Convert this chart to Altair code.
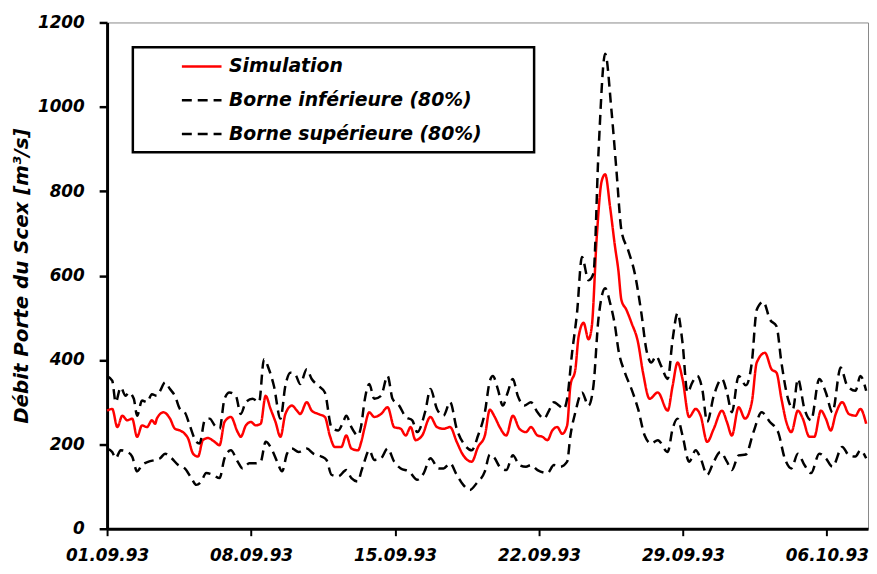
import altair as alt
import pandas as pd

# Day offsets from 01.09.93 and discharge values [m3/s]
SIM_DAYS = [0.00, 0.25, 0.50, 0.74, 0.98, 1.22, 1.46, 1.70, 1.94, 2.18, 2.34, 2.42, 2.74, 3.06, 3.30, 3.54, 3.78, 3.94, 4.18, 4.42,
            4.66, 4.90, 5.23, 5.47, 5.71, 6.02, 6.35, 6.50, 6.75, 6.99, 7.23, 7.47, 7.71, 7.95, 8.19, 8.43, 8.67, 8.99, 9.23, 9.39,
            9.71, 9.95, 10.27, 10.59, 10.83, 11.07, 11.39, 11.63, 11.88, 12.20, 12.36, 12.51, 12.75, 12.99, 13.32, 13.64, 13.96, 14.28, 14.52, 14.76,
            15.00, 15.32, 15.72, 16.04, 16.36, 16.68, 17.00, 17.32, 17.73, 18.04, 18.37, 18.61, 18.85, 19.09, 19.41, 19.73, 20.05, 20.37, 20.61, 20.93,
            21.17, 21.41, 21.65, 21.89, 22.13, 22.37, 22.53, 22.77, 22.93, 23.17, 23.41, 23.57, 23.81, 24.05, 24.22, 24.46, 24.70, 24.86, 25.01, 25.25,
            25.50, 25.82, 26.06, 26.38, 26.78, 27.26, 27.50, 27.74, 27.98, 28.30, 28.62, 28.86, 29.18, 29.50, 29.90, 30.14, 30.38, 30.71, 31.02, 31.35,
            31.59, 31.99, 32.31, 32.55, 32.79, 33.03, 33.27, 33.59, 33.83, 34.15, 34.39, 34.71, 34.95, 35.19, 35.43, 35.75, 36.07, 36.39, 36.63, 36.91]
SIM_VALUES = [280, 284, 241, 268, 257, 261, 218, 245, 241, 257, 249, 261, 276, 261, 237, 233, 225, 214, 178, 171,
              210, 215, 206, 198, 253, 265, 229, 218, 245, 253, 245, 249, 315, 284, 253, 218, 272, 292, 280, 272,
              300, 280, 272, 265, 221, 194, 194, 221, 190, 186, 206, 237, 276, 265, 272, 288, 241, 237, 221, 241,
              210, 221, 265, 241, 237, 241, 206, 174, 159, 194, 221, 282, 265, 241, 221, 268, 237, 229, 241, 221,
              218, 210, 233, 241, 225, 245, 339, 378, 456, 488, 449, 480, 691, 824, 840, 762, 668, 613, 542, 519,
              488, 441, 370, 308, 323, 280, 339, 394, 355, 265, 284, 268, 206, 237, 280, 253, 221, 288, 261, 300,
              394, 417, 378, 370, 308, 253, 229, 280, 261, 218, 218, 280, 261, 233, 272, 300, 272, 268, 284, 249]

LOW_DAYS = [0.00, 0.25, 0.42, 0.66, 0.98, 1.22, 1.46, 1.70, 2.02, 2.34, 2.58, 2.82, 3.14, 3.46, 3.78, 4.10, 4.34, 4.58, 4.82, 5.14,
            5.47, 5.71, 6.02, 6.35, 6.59, 6.91, 7.23, 7.47, 7.71, 8.03, 8.27, 8.51, 8.75, 8.99, 9.31, 9.71, 10.03, 10.43, 10.67, 10.91,
            11.24, 11.63, 11.88, 12.20, 12.36, 12.51, 12.75, 12.99, 13.32, 13.64, 13.96, 14.28, 14.68, 15.08, 15.40, 15.72, 16.12, 16.36, 16.68, 17.00,
            17.32, 17.64, 17.97, 18.37, 18.61, 18.85, 19.09, 19.41, 19.73, 20.05, 20.37, 20.61, 20.93, 21.41, 21.73, 22.04, 22.37, 22.53, 22.77, 23.09,
            23.41, 23.65, 23.89, 24.22, 24.46, 24.70, 24.86, 25.18, 25.50, 25.82, 26.14, 26.46, 26.78, 27.26, 27.50, 27.74, 27.98, 28.30, 28.62, 28.86,
            29.18, 29.50, 29.82, 30.14, 30.38, 30.71, 31.06, 31.43, 31.83, 32.23, 32.63, 32.95, 33.27, 33.59, 33.91, 34.23, 34.63, 34.95, 35.27, 35.75,
            36.07, 36.39, 36.63, 36.91]
LOW_VALUES = [190, 182, 167, 186, 182, 171, 136, 151, 159, 163, 167, 178, 167, 151, 143, 120, 104, 112, 132, 128,
              120, 167, 186, 159, 143, 155, 155, 159, 206, 186, 159, 136, 178, 190, 182, 190, 178, 171, 163, 128,
              124, 139, 120, 112, 136, 159, 186, 163, 167, 190, 159, 143, 136, 116, 132, 167, 143, 143, 155, 128,
              104, 92, 108, 136, 176, 167, 147, 139, 174, 151, 147, 151, 139, 132, 151, 147, 159, 221, 276, 323,
              292, 339, 496, 570, 535, 480, 425, 370, 331, 284, 221, 202, 210, 182, 237, 261, 221, 159, 186, 167,
              128, 159, 182, 159, 139, 174, 176, 229, 276, 253, 229, 167, 143, 178, 151, 132, 178, 167, 147, 194,
              174, 171, 186, 167]

UP_DAYS = [0.00, 0.25, 0.42, 0.66, 0.90, 1.06, 1.30, 1.46, 1.70, 1.94, 2.18, 2.42, 2.58, 2.82, 3.06, 3.30, 3.54, 3.78, 4.02, 4.34,
           4.50, 4.75, 4.99, 5.23, 5.47, 5.71, 5.95, 6.26, 6.50, 6.75, 7.07, 7.39, 7.63, 7.87, 8.11, 8.43, 8.67, 8.91, 9.15, 9.39,
           9.71, 9.95, 10.27, 10.59, 10.91, 11.24, 11.48, 11.63, 11.88, 12.20, 12.36, 12.51, 12.75, 12.99, 13.32, 13.64, 13.88, 14.20, 14.52, 14.84,
           15.08, 15.48, 15.72, 16.04, 16.36, 16.68, 17.00, 17.40, 17.73, 18.04, 18.37, 18.61, 18.76, 19.00, 19.24, 19.48, 19.73, 19.97, 20.29, 20.61,
           20.93, 21.25, 21.49, 21.73, 21.97, 22.21, 22.37, 22.61, 22.85, 23.09, 23.41, 23.65, 23.89, 24.22, 24.53, 24.77, 25.01, 25.34, 25.66, 25.98,
           26.22, 26.46, 26.70, 26.94, 27.26, 27.50, 27.74, 27.98, 28.22, 28.46, 28.70, 28.94, 29.18, 29.50, 29.90, 30.14, 30.38, 30.71, 31.06, 31.35,
           31.59, 31.91, 32.23, 32.55, 32.79, 33.11, 33.35, 33.59, 33.91, 34.23, 34.63, 34.95, 35.27, 35.67, 35.99, 36.39, 36.63, 36.91]
UP_VALUES = [362, 351, 300, 335, 315, 323, 308, 268, 304, 300, 319, 315, 327, 347, 331, 315, 284, 276, 245, 206,
             202, 257, 261, 245, 237, 308, 323, 315, 272, 300, 308, 300, 402, 378, 339, 261, 339, 370, 366, 343,
             378, 355, 339, 323, 241, 233, 253, 268, 241, 221, 245, 300, 343, 308, 315, 362, 308, 292, 265, 257,
             229, 280, 331, 284, 268, 300, 237, 198, 186, 221, 276, 350, 362, 331, 292, 323, 355, 315, 292, 300,
             276, 261, 280, 300, 292, 284, 308, 417, 511, 644, 589, 605, 887, 1126, 989, 848, 707, 660, 605, 511,
             425, 394, 409, 386, 355, 449, 511, 441, 323, 347, 362, 331, 253, 315, 355, 323, 276, 362, 340, 394,
             519, 538, 496, 480, 394, 308, 284, 355, 284, 257, 355, 323, 276, 382, 339, 327, 362, 327]

SERIES = ["Simulation", "Borne inférieure (80%)", "Borne supérieure (80%)"]
TICK_DAYS = [0, 7, 14, 21, 28, 35]
TICK_LABELS = ["01.09.93", "08.09.93", "15.09.93", "22.09.93", "29.09.93", "06.10.93"]
Y_TICKS = [0, 200, 400, 600, 800, 1000, 1200]

frames = []
for name, d, v in [(SERIES[0], SIM_DAYS, SIM_VALUES), (SERIES[1], LOW_DAYS, LOW_VALUES), (SERIES[2], UP_DAYS, UP_VALUES)]:
    frames.append(pd.DataFrame({"day": d, "q": v, "series": name}))
df = pd.concat(frames, ignore_index=True)

label_map = "{" + ",".join(f"'{d}':'{l}'" for d, l in zip(TICK_DAYS, TICK_LABELS)) + "}"

FONT = "DejaVu Sans"
PAD = "\u2800\u2800\u2800"  # blank glyphs widening the legend frame on the right

chart = alt.Chart(df).mark_line(strokeWidth=2.5, interpolate="monotone").encode(
    x=alt.X("day:Q", scale=alt.Scale(domain=[0, 37], nice=False, zero=False),
            axis=alt.Axis(values=TICK_DAYS, labelExpr=f"{label_map}[''+datum.value]", title=None,
                          grid=False, tickSize=7, tickWidth=2, domainWidth=3, domainColor="black", tickColor="black",
                          labelFont=FONT, labelFontSize=17, labelFontWeight="bold", labelFontStyle="italic",
                          labelColor="black", labelPadding=12, labelFlush=False, labelOverlap=False)),
    y=alt.Y("q:Q", scale=alt.Scale(domain=[0, 1200], nice=False),
            axis=alt.Axis(values=Y_TICKS, format="d", title="Débit Porte du Scex [m³/s]", grid=False,
                          tickSize=8, tickWidth=2.5, domainWidth=3, domainColor="black", tickColor="black",
                          labelFont=FONT, labelFontSize=17, labelFontWeight="bold", labelFontStyle="italic",
                          labelColor="black", labelPadding=15,
                          titleFont=FONT, titleFontSize=20, titleFontWeight="bold", titleFontStyle="italic",
                          titleColor="black", titlePadding=6)),
    color=alt.Color("series:N", scale=alt.Scale(domain=SERIES, range=["#ff0000", "black", "black"]),
                    legend=alt.Legend(title=None, orient="none", legendX=26, legendY=25,
                                      symbolType="M-2,0L2,0", symbolSize=400, symbolStrokeWidth=2.5,
                                      symbolOffset=50, padding=8, rowPadding=12, labelLimit=600,
                                      labelExpr=f"datum.label + '{PAD}'",
                                      labelFont=FONT, labelFontSize=19, labelFontWeight="bold", labelFontStyle="italic",
                                      labelColor="black", fillColor="white", strokeColor="black", labelOffset=16)),
    strokeDash=alt.StrokeDash("series:N", scale=alt.Scale(domain=SERIES, range=[[1, 0], [10, 6], [10, 6]]),
                              legend=None),
    detail="series:N",
).properties(
    width=768, height=511,
    autosize=alt.AutoSizeParams(type="none"),
    padding={"left": 100, "top": 12, "right": 1, "bottom": 35},
).configure_view(stroke="#888888", strokeWidth=1).configure_legend(strokeWidth=2.5)

chart.save("out.html", embed_options={"renderer": "svg", "actions": False})
